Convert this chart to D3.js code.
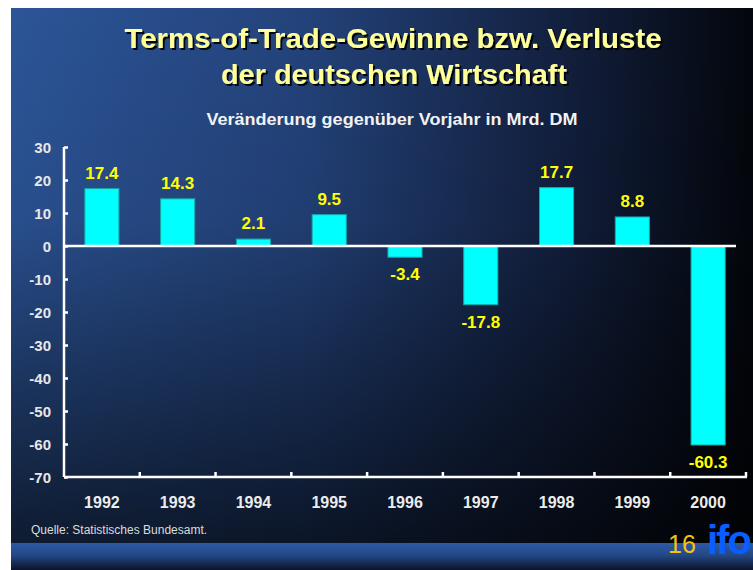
<!DOCTYPE html>
<html>
<head>
<meta charset="utf-8">
<script src="https://cdn.jsdelivr.net/npm/d3@7"></script>
<style>
  body { margin: 0; background: #fff; }
  svg { display: block; font-family: "Liberation Sans", Arial, sans-serif; }
</style>
</head>
<body>
<svg id="chart" width="753" height="570"></svg>
<script>
// data
var years = ["1992", "1993", "1994", "1995", "1996", "1997", "1998", "1999", "2000"];
var values = [17.4, 14.3, 2.1, 9.5, -3.4, -17.8, 17.7, 8.8, -60.3];
var yTicks = [30, 20, 10, 0, -10, -20, -30, -40, -50, -60, -70];

var svg = d3.select("#chart");
var defs = svg.append("defs");

// background gradients
var hg = defs.append("linearGradient").attr("id", "hg").attr("x1", 0).attr("x2", 1).attr("y1", 0).attr("y2", 0);
hg.append("stop").attr("offset", "0%").attr("stop-color", "#2c5598");
hg.append("stop").attr("offset", "40%").attr("stop-color", "#23427a");
hg.append("stop").attr("offset", "75%").attr("stop-color", "#121f3d");
hg.append("stop").attr("offset", "100%").attr("stop-color", "#03060c");

var vg = defs.append("linearGradient").attr("id", "vg").attr("x1", 0).attr("x2", 0).attr("y1", 0).attr("y2", 1);
vg.append("stop").attr("offset", "0%").attr("stop-color", "#000").attr("stop-opacity", 0);
vg.append("stop").attr("offset", "40%").attr("stop-color", "#000").attr("stop-opacity", 0.08);
vg.append("stop").attr("offset", "100%").attr("stop-color", "#000").attr("stop-opacity", 0.68);

var bg = defs.append("linearGradient").attr("id", "bandg").attr("x1", 0).attr("x2", 0).attr("y1", 0).attr("y2", 1);
bg.append("stop").attr("offset", "0%").attr("stop-color", "#2d5aa3");
bg.append("stop").attr("offset", "45%").attr("stop-color", "#234887");
bg.append("stop").attr("offset", "100%").attr("stop-color", "#0a1428");

var shadow = defs.append("filter").attr("id", "shadow").attr("x", "-5%").attr("y", "-20%").attr("width", "110%").attr("height", "140%");
shadow.append("feDropShadow").attr("dx", 2).attr("dy", 2).attr("stdDeviation", 0.4)
  .attr("flood-color", "#000").attr("flood-opacity", 0.9);

svg.append("rect").attr("x", 11).attr("y", 8).attr("width", 742).attr("height", 535).attr("fill", "url(#hg)");
svg.append("rect").attr("x", 11).attr("y", 8).attr("width", 742).attr("height", 535).attr("fill", "url(#vg)");
svg.append("rect").attr("x", 11).attr("y", 543).attr("width", 742).attr("height", 27).attr("fill", "url(#bandg)");

// titles
svg.append("text").attr("x", 393).attr("y", 48).attr("text-anchor", "middle")
  .attr("textLength", 537).attr("lengthAdjust", "spacingAndGlyphs")
  .attr("font-size", 28).attr("font-weight", "bold").attr("fill", "#ffff99")
  .attr("filter", "url(#shadow)")
  .text("Terms-of-Trade-Gewinne bzw. Verluste");
svg.append("text").attr("x", 394).attr("y", 84).attr("text-anchor", "middle")
  .attr("textLength", 346).attr("lengthAdjust", "spacingAndGlyphs")
  .attr("font-size", 28).attr("font-weight", "bold").attr("fill", "#ffff99")
  .attr("filter", "url(#shadow)")
  .text("der deutschen Wirtschaft");
svg.append("text").attr("x", 392).attr("y", 125).attr("text-anchor", "middle")
  .attr("textLength", 371).attr("lengthAdjust", "spacingAndGlyphs")
  .attr("font-size", 16).attr("font-weight", "bold").attr("fill", "#f2f2f2")
  .text("Veränderung gegenüber Vorjahr in Mrd. DM");

// scales
var x = d3.scaleBand().domain(years).range([64, 746]).paddingInner(0.55).paddingOuter(0.275);
var xOuter = d3.scaleBand().domain(years).range([64, 746]);
var y = d3.scaleLinear().domain([-70, 30]).range([477, 147]);

// bars
svg.append("g").selectAll("rect").data(values).enter().append("rect")
  .attr("x", function (d, i) { return x(years[i]); })
  .attr("y", function (d) { return y(Math.max(0, d)); })
  .attr("width", x.bandwidth())
  .attr("height", function (d) { return Math.abs(y(d) - y(0)); })
  .attr("fill", "#00ffff")
  .attr("stroke", "#1aa6a6").attr("stroke-width", 1);

// value labels
svg.append("g").selectAll("text").data(values).enter().append("text")
  .attr("x", function (d, i) { return x(years[i]) + x.bandwidth() / 2; })
  .attr("y", function (d) { return d >= 0 ? y(d) - 10 : y(d) + 23; })
  .attr("text-anchor", "middle")
  .attr("font-size", 17).attr("font-weight", "bold").attr("fill", "#ffff00")
  .text(function (d) { return d.toFixed(1); });

// y axis
var yAxis = svg.append("g").attr("transform", "translate(64,0)")
  .call(d3.axisRight(y).tickValues(yTicks).tickSize(4).tickFormat(""));
yAxis.select(".domain").attr("stroke", "#fff").attr("stroke-width", 2.5).attr("d", "M0," + y(30) + "V" + y(-70));
yAxis.selectAll(".tick line").attr("stroke", "#fff").attr("stroke-width", 2.5);
svg.append("g").selectAll("text").data(yTicks).enter().append("text")
  .attr("x", 51).attr("y", function (d) { return y(d) + 5.5; })
  .attr("text-anchor", "end").attr("font-size", 15).attr("font-weight", "bold").attr("fill", "#e8e8e8")
  .text(function (d) { return d; });

// zero line
svg.append("line").attr("x1", 64).attr("x2", 736).attr("y1", y(0)).attr("y2", y(0))
  .attr("stroke", "#fff").attr("stroke-width", 2.5);

// x axis at bottom with category boundary ticks
var bottom = svg.append("g").attr("transform", "translate(0," + y(-70) + ")");
bottom.append("line").attr("x1", 64).attr("x2", 747).attr("y1", 0).attr("y2", 0)
  .attr("stroke", "#fff").attr("stroke-width", 2.5);
bottom.selectAll("line.tk").data(years).enter().append("line").attr("class", "tk")
  .attr("x1", function (d) { return xOuter(d) + xOuter.bandwidth(); })
  .attr("x2", function (d) { return xOuter(d) + xOuter.bandwidth(); })
  .attr("y1", 0).attr("y2", -5)
  .attr("stroke", "#fff").attr("stroke-width", 2.5);
svg.append("g").selectAll("text").data(years).enter().append("text")
  .attr("x", function (d) { return xOuter(d) + xOuter.bandwidth() / 2; })
  .attr("y", 508).attr("text-anchor", "middle")
  .attr("font-size", 16).attr("font-weight", "bold").attr("fill", "#ececec")
  .text(function (d) { return d; });

// footer
svg.append("text").attr("x", 31).attr("y", 534).attr("font-size", 12).attr("fill", "#dcdcdc")
  .text("Quelle: Statistisches Bundesamt.");
svg.append("text").attr("x", 668).attr("y", 553).attr("font-size", 25).attr("fill", "#f5c20f")
  .text("16");
svg.append("text").attr("x", 707).attr("y", 554).attr("font-size", 40).attr("font-weight", "bold")
  .attr("letter-spacing", -2).attr("fill", "#0a5dff")
  .text("ifo");
</script>
</body>
</html>
